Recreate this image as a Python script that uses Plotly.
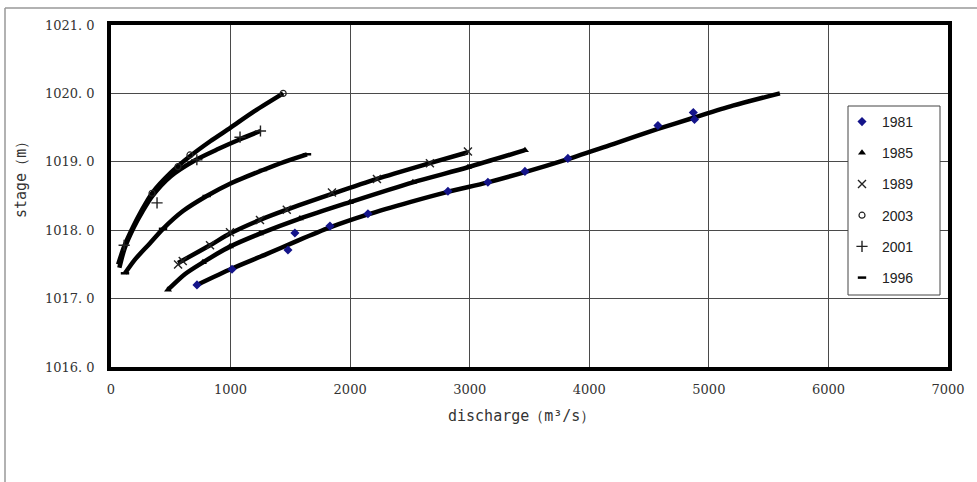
import plotly.graph_objects as go

# ---------------- data ----------------
years = ["1981", "1985", "1989", "2003", "2001", "1996"]

# fitted rating curves (discharge m3/s, stage m)
fit_q_1981 = [719, 1012, 1300, 1538, 1831, 2149, 2500, 2818, 3152, 3462, 3821, 4200, 4574, 4866, 5200, 5594]
fit_h_1981 = [1017.20, 1017.44, 1017.65, 1017.83, 1018.04, 1018.23, 1018.41, 1018.56, 1018.70, 1018.85,
              1019.04, 1019.26, 1019.48, 1019.64, 1019.82, 1020.00]
fit_q_1985 = [477, 620, 769, 995, 1246, 1580, 1998, 2525, 2985, 3462]
fit_h_1985 = [1017.13, 1017.36, 1017.53, 1017.76, 1017.95, 1018.17, 1018.41, 1018.70, 1018.92, 1019.17]
fit_q_1989 = [561, 828, 995, 1246, 1470, 1848, 2224, 2667, 2985]
fit_h_1989 = [1017.52, 1017.78, 1017.95, 1018.15, 1018.30, 1018.53, 1018.75, 1018.98, 1019.14]
fit_q_2003 = [60, 110, 185, 260, 343, 500, 660, 830, 1000, 1200, 1440]
fit_h_2003 = [1017.50, 1017.76, 1018.05, 1018.30, 1018.54, 1018.84, 1019.08, 1019.30, 1019.50, 1019.74, 1020.00]
fit_q_2001 = [70, 115, 190, 265, 345, 500, 700, 900, 1080, 1250]
fit_h_2001 = [1017.45, 1017.74, 1018.04, 1018.28, 1018.50, 1018.79, 1019.02, 1019.19, 1019.33, 1019.45]
fit_q_1996 = [117, 200, 326, 435, 602, 800, 995, 1271, 1450, 1639]
fit_h_1996 = [1017.37, 1017.57, 1017.81, 1018.02, 1018.28, 1018.50, 1018.68, 1018.88, 1019.00, 1019.11]

# measured points (markers)
obs_q_1981 = [719, 1012, 1480, 1538, 1831, 2149, 2818, 3152, 3462, 3821, 4574, 4870, 4880]
obs_h_1981 = [1017.20, 1017.43, 1017.71, 1017.96, 1018.06, 1018.24, 1018.57, 1018.70, 1018.86, 1019.05,
              1019.53, 1019.72, 1019.62]
obs_q_1985 = [477, 769, 995, 1246, 1580, 1998, 2525, 2985, 3462]
obs_h_1985 = [1017.13, 1017.53, 1017.76, 1017.95, 1018.17, 1018.41, 1018.70, 1018.92, 1019.17]
obs_q_1989 = [561, 600, 828, 995, 1246, 1470, 1848, 2224, 2667, 2985]
obs_h_1989 = [1017.50, 1017.55, 1017.78, 1017.97, 1018.15, 1018.30, 1018.55, 1018.75, 1018.98, 1019.15]
obs_q_2003 = [343, 560, 660, 1440]
obs_h_2003 = [1018.54, 1018.93, 1019.10, 1020.00]
obs_q_2001 = [110, 385, 718, 1079, 1250]
obs_h_2001 = [1017.78, 1018.40, 1019.03, 1019.36, 1019.45]
obs_q_1996 = [117, 435, 800, 1271, 1639]
obs_h_1996 = [1017.37, 1018.02, 1018.50, 1018.88, 1019.11]

x_ticks = [0, 1000, 2000, 3000, 4000, 5000, 6000, 7000]
y_ticks = [1016, 1017, 1018, 1019, 1020, 1021]
y_tick_text = ["1016. 0", "1017. 0", "1018. 0", "1019. 0", "1020. 0", "1021. 0"]

# ---------------- figure ----------------
fits = {
    "1981": (fit_q_1981, fit_h_1981), "1985": (fit_q_1985, fit_h_1985),
    "1989": (fit_q_1989, fit_h_1989), "2003": (fit_q_2003, fit_h_2003),
    "2001": (fit_q_2001, fit_h_2001), "1996": (fit_q_1996, fit_h_1996),
}
obs = {
    "1981": (obs_q_1981, obs_h_1981), "1985": (obs_q_1985, obs_h_1985),
    "1989": (obs_q_1989, obs_h_1989), "2003": (obs_q_2003, obs_h_2003),
    "2001": (obs_q_2001, obs_h_2001), "1996": (obs_q_1996, obs_h_1996),
}
styles = {
    "1981": dict(symbol="diamond", size=7, color="#14148a", line=dict(width=0)),
    "1985": dict(symbol="triangle-up", size=7, color="black", line=dict(width=0)),
    "1989": dict(symbol="x-thin", size=8, color="black", line=dict(width=1.4, color="#222")),
    "2003": dict(symbol="circle-open", size=6, color="#222", line=dict(width=1.2)),
    "2001": dict(symbol="cross-thin", size=8, color="black", line=dict(width=1.4, color="#222")),
    "1996": dict(symbol="line-ew", size=6, color="black", line=dict(width=2.5, color="black")),
}

fig = go.Figure()
for y in years:
    q, h = fits[y]
    fig.add_trace(go.Scatter(x=q, y=h, mode="lines",
                             line=dict(color="black", width=4.5, shape="spline", smoothing=0.8),
                             showlegend=False, hoverinfo="skip"))
for y in years:
    q, h = obs[y]
    fig.add_trace(go.Scatter(x=q, y=h, mode="markers", name=y, marker=styles[y], legendgroup="g" + y))

L, R, T, B = 111, 948, 25, 367
W, H = 977, 482
pw, ph = R - L, B - T

def px_x(p):
    return (p - L) / pw

def px_y(p):
    return (B - p) / ph

fig.update_layout(
    width=W, height=H,
    margin=dict(l=L, r=W - R, t=T, b=H - B, autoexpand=False),
    paper_bgcolor="white", plot_bgcolor="white",
    showlegend=True,
    legend=dict(x=px_x(842), xanchor="left", y=px_y(106), yanchor="top",
                bgcolor="rgba(0,0,0,0)", borderwidth=0,
                font=dict(family="Liberation Sans", size=14, color="#222"),
                tracegroupgap=10, traceorder="grouped", itemwidth=30),
    font=dict(family="DejaVu Serif", color="#222"),
)
fig.update_xaxes(range=[0, 7000], tickvals=x_ticks, ticktext=[str(v) for v in x_ticks],
                 showgrid=True, gridcolor="#4a4a4a", gridwidth=1.2, zeroline=False,
                 showline=True, linecolor="black", linewidth=3.5, mirror=True,
                 ticks="", ticklabelstandoff=8, automargin=False,
                 tickfont=dict(family="DejaVu Serif", size=13, color="#333"))
fig.update_yaxes(range=[1016, 1021], tickvals=y_ticks, ticktext=y_tick_text,
                 showgrid=True, gridcolor="#4a4a4a", gridwidth=1.2, zeroline=False,
                 showline=True, linecolor="black", linewidth=3.5, mirror=True,
                 ticks="", ticklabelstandoff=10, automargin=False,
                 tickfont=dict(family="DejaVu Serif", size=13, color="#333"))

# axis titles
fig.add_annotation(text="discharge（m³/s）", xref="paper", yref="paper",
                   x=px_x(521), y=px_y(416), xanchor="center", yanchor="middle",
                   showarrow=False, font=dict(family="DejaVu Sans Mono", size=15, color="#333"))
fig.add_annotation(text="stage（m）", xref="paper", yref="paper", textangle=-90,
                   x=px_x(21), y=px_y(176), xanchor="center", yanchor="middle",
                   showarrow=False, font=dict(family="DejaVu Sans Mono", size=15, color="#333"))

# legend frame
fig.add_shape(type="rect", xref="paper", yref="paper", layer="above",
              x0=px_x(848), x1=px_x(940), y0=px_y(106), y1=px_y(295),
              fillcolor="white", line=dict(color="#444", width=1))

# outer frame of the picture (top and left edges)
fig.add_shape(type="line", xref="paper", yref="paper", x0=px_x(5), x1=px_x(W),
              y0=px_y(8), y1=px_y(8), line=dict(color="#999", width=1.5))
fig.add_shape(type="line", xref="paper", yref="paper", x0=px_x(5), x1=px_x(5),
              y0=px_y(8), y1=px_y(H), line=dict(color="#999", width=1.5))

fig.write_html("out.html", config={"displayModeBar": False},
               post_script="document.body.style.margin='0';")
